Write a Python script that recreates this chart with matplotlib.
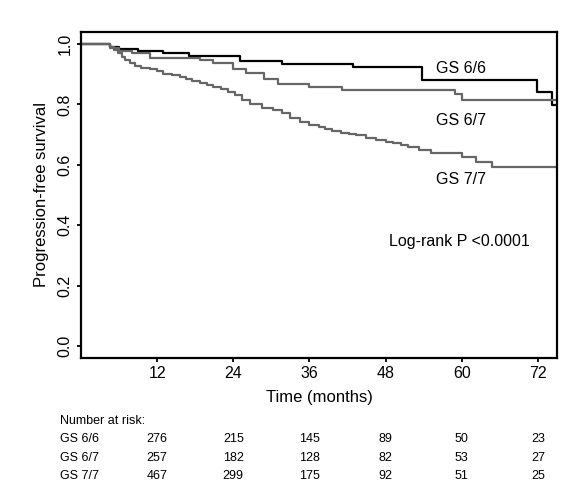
import matplotlib
matplotlib.use("Agg")
import matplotlib.pyplot as plt
import matplotlib.transforms as mtransforms

plt.rcParams['font.family'] = ['Liberation Sans', 'DejaVu Sans']

# Kaplan-Meier step data (months, progression-free survival)
t_66 = [0, 4.6, 6, 9, 13, 17, 25, 31.6, 42.8, 53.8, 71.9, 74.2, 75]
s_66 = [1.0, 0.99, 0.985, 0.978, 0.972, 0.961, 0.945, 0.934, 0.925, 0.881, 0.842, 0.798, 0.798]

t_67 = [0, 4.6, 6, 8, 10.8, 18.7, 20.8, 23.9, 26, 28.9, 31, 36, 41.2, 59, 60.1, 75]
s_67 = [1.0, 0.986, 0.978, 0.970, 0.953, 0.947, 0.936, 0.916, 0.903, 0.883, 0.868, 0.857, 0.848, 0.835, 0.815, 0.815]

t_77 = [0, 4.6, 5.2, 5.8, 6.4, 7.0, 7.7, 8.5, 9.5, 10.8, 12.0, 13.0, 14.3, 15.6, 16.5, 17.5,
        18.7, 19.8, 20.8, 22.0, 23.2, 24.2, 25.3, 26.6, 28.5, 30.3, 31.6, 32.9, 34.5, 36.0,
        37.5, 38.5, 39.6, 41.0, 42.3, 43.3, 44.9, 46.5, 48.0, 49.1, 50.5, 51.5, 53.3, 55.1,
        60.1, 62.2, 64.8, 75]
s_77 = [1.0, 0.99, 0.98, 0.97, 0.958, 0.946, 0.936, 0.928, 0.922, 0.917, 0.910, 0.902, 0.896,
        0.890, 0.884, 0.878, 0.872, 0.866, 0.858, 0.850, 0.840, 0.830, 0.815, 0.800, 0.788,
        0.782, 0.770, 0.755, 0.742, 0.732, 0.726, 0.720, 0.712, 0.706, 0.702, 0.698, 0.688,
        0.682, 0.676, 0.671, 0.666, 0.660, 0.649, 0.638, 0.627, 0.610, 0.594, 0.594]

groups = ["GS 6/6", "GS 6/7", "GS 7/7"]
risk_times = [12, 24, 36, 48, 60, 72]
risk_66 = [276, 215, 145, 89, 50, 23]
risk_67 = [257, 182, 128, 82, 53, 27]
risk_77 = [467, 299, 175, 92, 51, 25]

fig = plt.figure(figsize=(5.86, 4.87), dpi=100)
ax = fig.add_axes([0.1382, 0.2649, 0.8123, 0.6694])

ax.step(t_66, s_66, where='post', color='black', lw=1.6)
ax.step(t_67, s_67, where='post', color='#666666', lw=1.6)
ax.step(t_77, s_77, where='post', color='#666666', lw=1.6)

ax.set_xlim(0, 75)
ax.set_ylim(-0.04, 1.04)
ax.set_xticks(risk_times)
ax.set_yticks([0.0, 0.2, 0.4, 0.6, 0.8, 1.0])
ax.set_yticklabels(["0.0", "0.2", "0.4", "0.6", "0.8", "1.0"], rotation=90, va='center')
ax.tick_params(labelsize=11.5, length=3, width=1.3, pad=3)
for sp in ax.spines.values():
    sp.set_linewidth(1.6)

ax.set_xlabel("Time (months)", fontsize=12, labelpad=6)
ax.set_ylabel("Progression-free survival", fontsize=12, labelpad=6)

ax.text(56, 0.92, "GS 6/6", fontsize=11.5, va='center')
ax.text(56, 0.748, "GS 6/7", fontsize=11.5, va='center')
ax.text(56, 0.55, "GS 7/7", fontsize=11.5, va='center')
ax.text(48.6, 0.345, "Log-rank P <0.0001", fontsize=11.5, va='center')

# number at risk table below the axes
trans = mtransforms.blended_transform_factory(ax.transData, fig.transFigure)
fig.text(0.102, 1 - 421 / 487, "Number at risk:", fontsize=9, va='center')
rows_y = [1 - 439 / 487, 1 - 457.7 / 487, 1 - 476.4 / 487]
for name, counts, y in zip(groups, [risk_66, risk_67, risk_77], rows_y):
    fig.text(0.102, y, name, fontsize=9, va='center')
    for t, n in zip(risk_times, counts):
        ax.text(t, y, str(n), fontsize=9, ha='center', va='center', transform=trans, clip_on=False)

fig.savefig("out.png", dpi=100)
